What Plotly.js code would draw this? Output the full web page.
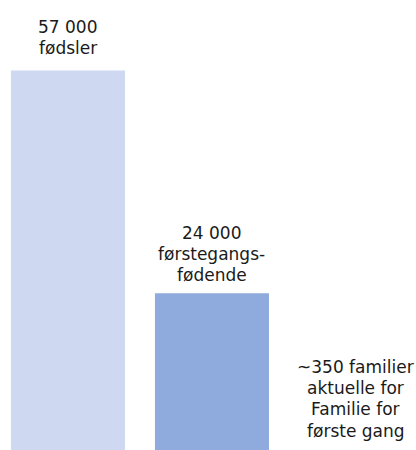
<!DOCTYPE html>
<html>
<head>
<meta charset="utf-8">
<script src="https://cdn.plot.ly/plotly-3.0.1.min.js"></script>
<style>
html,body{margin:0;padding:0;background:#fff;}
#chart{width:416px;height:450px;}
</style>
</head>
<body>
<div id="chart"></div>
<script>
// Data
var categories = ["Fødsler", "Førstegangsfødende", "Familie for første gang"];
var values = [57000, 24000, 350];
var labelLines = [
  ["57 000", "fødsler"],
  ["24 000", "førstegangs-", "fødende"],
  ["~350 familier", "aktuelle for", "Familie for", "første gang"]
];
var barColors = ["#CED8F1", "#8FAADC", "#8FAADC"];

// Layout helpers (pixel positions of first label line centre, line spacing)
var H = 450, W = 416;
var firstLineCenterPx = [27, 233, 367];
var lineStep = 21.2;

var xIdx = categories.map(function(_, i){ return i; });

var annotations = [];
labelLines.forEach(function(lines, i){
  lines.forEach(function(t, j){
    var px = firstLineCenterPx[i] + j * lineStep;
    annotations.push({
      x: xIdx[i], xref: "x",
      y: 1 - px / H, yref: "paper",
      xanchor: "center", yanchor: "middle",
      text: t, showarrow: false,
      font: {family: "DejaVu Sans", size: 17, color: "#1a1a1a"}
    });
  });
});

var trace = {
  type: "bar",
  x: xIdx,
  y: values,
  width: 0.792,
  marker: {color: barColors, line: {width: 0}},
  hoverinfo: "skip",
  text: categories,
  textposition: "none"
};

var layout = {
  width: W, height: H,
  margin: {l: 0, r: 0, t: 0, b: 0, pad: 0},
  paper_bgcolor: "#ffffff",
  plot_bgcolor: "#ffffff",
  showlegend: false,
  xaxis: {range: [-0.472, 2.417], showgrid: false, zeroline: false, showticklabels: false, ticks: "", showline: false, fixedrange: true},
  yaxis: {range: [760, 67450], showgrid: false, zeroline: false, showticklabels: false, ticks: "", showline: false, fixedrange: true},
  annotations: annotations
};

Plotly.newPlot("chart", [trace], layout, {displayModeBar: false, staticPlot: true});
</script>
</body>
</html>
